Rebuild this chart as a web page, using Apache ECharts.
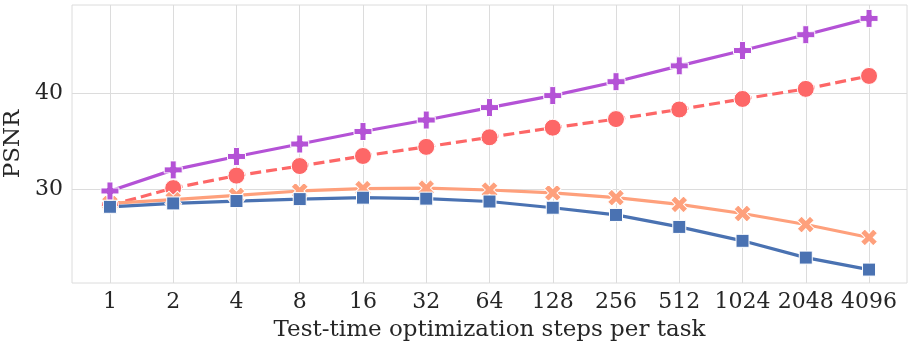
<!DOCTYPE html>
<html>
<head>
<meta charset="utf-8">
<script src="https://cdn.jsdelivr.net/npm/echarts@6/dist/echarts.min.js"></script>
<style>
  html, body { margin: 0; padding: 0; background: #fff; }
  #chart { width: 913px; height: 348px; }
</style>
</head>
<body>
<div id="chart"></div>
<script>
// categories on the x axis (optimization steps)
const steps = ['1', '2', '4', '8', '16', '32', '64', '128', '256', '512', '1024', '2048', '4096']
const yTicks = [30, 40]

// PSNR
const purpleVals = [29.8, 32.0, 33.4, 34.7, 36.0, 37.2, 38.5, 39.75, 41.2, 42.85, 44.45, 46.1, 47.8]
const redVals = [28.3, 30.1, 31.4, 32.4, 33.45, 34.4, 35.4, 36.4, 37.3, 38.3, 39.4, 40.45, 41.8]
const orangeVals = [28.5, 28.9, 29.35, 29.8, 30.05, 30.1, 29.9, 29.6, 29.1, 28.4, 27.45, 26.3, 24.95]
const blueVals = [28.15, 28.5, 28.75, 28.95, 29.1, 29.0, 28.7, 28.05, 27.3, 26.05, 24.6, 22.85, 21.6]

window.onload = function () {
  var myChart = echarts.init(document.getElementById('chart'))

  var plusPath = 'path://M-1,-3H1V-1H3V1H1V3H-1V1H-3V-1H-1Z'
  var idx = steps.map(function (s, i) { return i })

  function pairs(vals) {
    return vals.map(function (v, i) { return [i, v] })
  }

  function makeSeries(vals, color, symbol, size, opts) {
    var s = {
      type: 'line',
      data: pairs(vals),
      symbol: symbol,
      symbolSize: size,
      showAllSymbol: true,
      lineStyle: { color: color, width: 3.2 },
      itemStyle: { color: color, borderColor: '#fff', borderWidth: 1 },
      emphasis: { disabled: true },
      animation: false,
    }
    return Object.assign(s, opts || {})
  }

  var serifFont = 'DejaVu Serif'

  var option = {
    backgroundColor: '#fff',
    grid: {
      left: 72,
      right: 6,
      top: 5,
      bottom: 65,
      outerBoundsMode: 'none',
      containLabel: false,
      show: true,
      borderColor: '#dcdcdc',
      borderWidth: 1,
    },
    xAxis: {
      type: 'value',
      min: -0.6,
      max: 12.6,
      name: 'Test-time optimization steps per task',
      nameLocation: 'middle',
      nameGap: 36,
      nameTextStyle: { fontFamily: serifFont, fontSize: 23, color: '#262626' },
      axisLine: { show: false },
      axisTick: { show: false, customValues: idx },
      axisLabel: {
        customValues: idx,
        formatter: function (v) { return steps[Math.round(v)] },
        fontFamily: serifFont,
        fontSize: 22,
        color: '#262626',
        margin: 8,
      },
      splitLine: { show: true, lineStyle: { color: '#dcdcdc', width: 1 } },
    },
    yAxis: {
      type: 'value',
      min: 20.2,
      max: 49.2,
      name: 'PSNR',
      nameLocation: 'middle',
      nameGap: 42,
      nameTextStyle: { fontFamily: serifFont, fontSize: 23, color: '#262626' },
      axisLine: { show: false },
      axisTick: { show: false, customValues: yTicks },
      axisLabel: {
        customValues: yTicks,
        fontFamily: serifFont,
        fontSize: 22,
        color: '#262626',
        margin: 9,
      },
      splitLine: { show: true, lineStyle: { color: '#dcdcdc', width: 1 } },
    },
    series: [
      makeSeries(redVals, '#fd6767', 'circle', 17, {
        lineStyle: { color: '#fd6767', width: 3.2, type: [11, 5] },
      }),
      makeSeries(orangeVals, '#fea07c', plusPath, 18, { symbolRotate: 45 }),
      makeSeries(blueVals, '#4a72b2', 'rect', 13),
      makeSeries(purpleVals, '#b452d6', plusPath, 18),
    ],
  }

  myChart.setOption(option)
}
</script>
</body>
</html>
